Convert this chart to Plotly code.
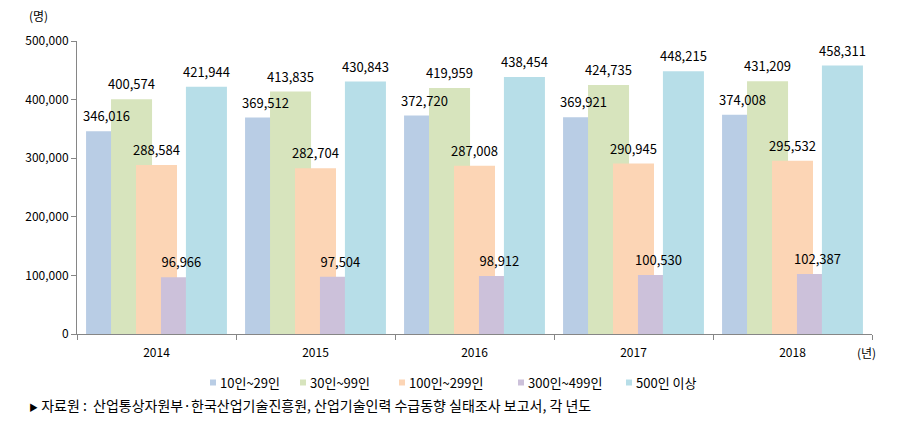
import plotly.graph_objects as go

years = ["2014", "2015", "2016", "2017", "2018"]
series_names = ["10인~29인", "30인~99인", "100인~299인", "300인~499인", "500인 이상"]
v_10_29 = [346016, 369512, 372720, 369921, 374008]
v_30_99 = [400574, 413835, 419959, 424735, 431209]
v_100_299 = [288584, 282704, 287008, 290945, 295532]
v_300_499 = [96966, 97504, 98912, 100530, 102387]
v_500_plus = [421944, 430843, 438454, 448215, 458311]
values = [v_10_29, v_30_99, v_100_299, v_300_499, v_500_plus]
colors = ["#B9CDE5", "#D7E4BD", "#FCD5B5", "#CCC1DA", "#B7DEE8"]
ytick_vals = [0, 100000, 200000, 300000, 400000, 500000]
ytick_text = ["0", "100,000", "200,000", "300,000", "400,000", "500,000"]

FONT = "Noto Sans CJK KR"
W, H = 902, 424
L, R, T, B = 77, 30, 41, 90
pw, ph = W - L - R, H - T - B

def px(x):
    return (x - L) / pw

def py(y):
    return (H - B - y) / ph

fig = go.Figure()
bar_w = 0.258
step = 0.157
start = -0.443
for i, (name, vals, col) in enumerate(zip(series_names, values, colors)):
    fig.add_trace(go.Bar(
        x=years, y=vals, name=name,
        marker=dict(color=col, line=dict(width=0)),
        width=bar_w, offset=start + i * step,
        showlegend=False, hoverinfo="skip",
    ))

# data labels on a numeric overlay axis aligned with the category positions
for i, (name, vals) in enumerate(zip(series_names, values)):
    xs = [k + start + i * step + bar_w / 2 for k in range(len(years))]
    fig.add_trace(go.Scatter(
        x=xs, y=vals, mode="markers+text", text=[f"{v:,}" for v in vals],
        textposition="top center",
        marker=dict(size=9, opacity=0),
        textfont=dict(family=FONT, size=13, color="#000000"),
        xaxis="x2", yaxis="y", showlegend=False, hoverinfo="skip",
        cliponaxis=False,
    ))

fig.update_layout(
    width=W, height=H,
    margin=dict(l=L, r=R, t=T, b=B, pad=0),
    barmode="overlay",
    plot_bgcolor="white", paper_bgcolor="white",
    font=dict(family=FONT, size=12, color="#000000"),
    showlegend=False,
    xaxis2=dict(overlaying="x", range=[-0.5, len(years) - 0.5], visible=False,
                showgrid=False, zeroline=False),
)
fig.layout.xaxis.update(
    type="category", showline=True, linecolor="#868686", linewidth=1,
    ticks="outside", tickson="boundaries", ticklen=5, tickcolor="#868686",
    showgrid=False, zeroline=False, tickfont=dict(family=FONT, size=12),
    ticklabelstandoff=8, range=[-0.5, len(years) - 0.5],
)
fig.update_yaxes(
    range=[0, 500000], tickvals=ytick_vals, ticktext=ytick_text,
    showline=True, linecolor="#868686", linewidth=1,
    ticks="outside", ticklen=5, tickcolor="#868686",
    showgrid=False, zeroline=False, tickfont=dict(family=FONT, size=12),
)

ann = []
ann.append(dict(x=px(38), y=py(15), xref="paper", yref="paper", text="(명)",
                xanchor="center", yanchor="middle",
                showarrow=False, font=dict(family=FONT, size=12)))
ann.append(dict(x=px(866), y=py(352), xref="paper", yref="paper", text="(년)",
                xanchor="center", yanchor="middle",
                showarrow=False, font=dict(family=FONT, size=12)))
ann.append(dict(x=px(27), y=py(405), xref="paper", yref="paper",
                xanchor="left", yanchor="middle",
                text="<span style='font-size:9px'>▶</span> 자료원 :  산업통상자원부·한국산업기술진흥원, 산업기술인력 수급동향 실태조사 보고서, 각 년도",
                showarrow=False, font=dict(family=FONT, size=14)))

shapes = []
leg_x = [213, 303, 402, 521, 629]
for name, col, lx in zip(series_names, colors, leg_x):
    shapes.append(dict(type="rect", xref="paper", yref="paper",
                       x0=px(lx - 3), x1=px(lx + 3), y0=py(385.5), y1=py(379.5),
                       fillcolor=col, line=dict(width=0)))
    ann.append(dict(x=px(lx + 5), y=py(382), xref="paper", yref="paper",
                    xanchor="left", yanchor="middle",
                    text=name, showarrow=False, font=dict(family=FONT, size=13)))

fig.update_layout(annotations=ann, shapes=shapes)
fig.write_html("out.html", config={"displayModeBar": False},
               post_script="document.body.style.margin='0';document.body.style.overflow='hidden';")
